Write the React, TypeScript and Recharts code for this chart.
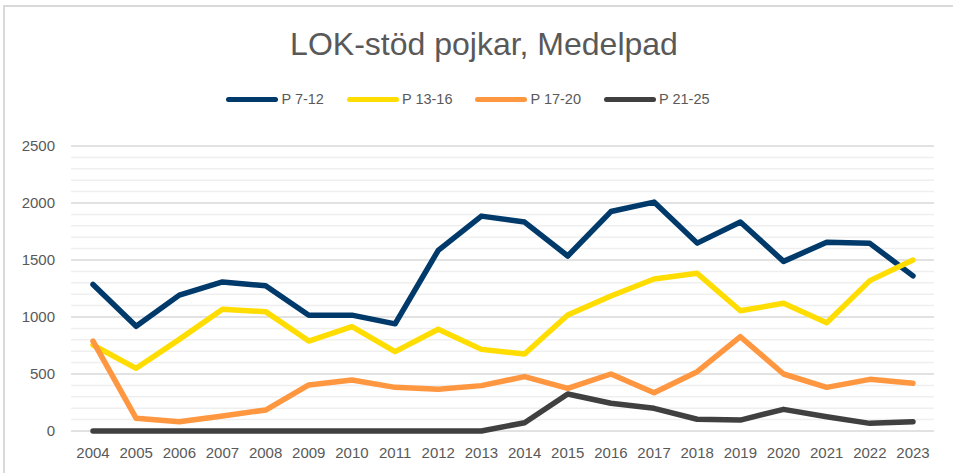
import React from 'react';
import { LineChart, Line, XAxis, YAxis, CartesianGrid, Legend } from 'recharts';

const years = [
  '2004', '2005', '2006', '2007', '2008', '2009', '2010', '2011', '2012', '2013',
  '2014', '2015', '2016', '2017', '2018', '2019', '2020', '2021', '2022', '2023',
];
const p712 = [1285, 918, 1192, 1308, 1274, 1016, 1016, 940, 1585, 1885, 1833, 1535, 1925, 2008, 1648, 1833, 1488, 1655, 1646, 1361];
const p1316 = [754, 550, 804, 1067, 1047, 789, 915, 696, 892, 716, 675, 1018, 1184, 1333, 1383, 1055, 1120, 950, 1319, 1500];
const p1720 = [789, 111, 82, 132, 184, 404, 447, 383, 366, 398, 477, 374, 500, 336, 520, 827, 500, 383, 453, 418];
const p2125 = [0, 0, 0, 0, 0, 0, 0, 0, 0, 0, 73, 325, 243, 199, 103, 96, 190, 125, 67, 82];

const seriesNames = ['P 7-12', 'P 13-16', 'P 17-20', 'P 21-25'];

const yTicks = [
  0, 100, 200, 300, 400, 500, 600, 700, 800, 900, 1000, 1100, 1200,
  1300, 1400, 1500, 1600, 1700, 1800, 1900, 2000, 2100, 2200, 2300, 2400, 2500,
];

const data = years.map((year, i) => ({
  year,
  p712: p712[i],
  p1316: p1316[i],
  p1720: p1720[i],
  p2125: p2125[i],
}));

const font = "Arial, 'Liberation Sans', sans-serif";
const textColor = '#595959';

// major line every 500, light minor line every 100
const gridLine = (props: any) => {
  const { x1, x2, y1, y2, index } = props;
  const major = index % 5 === 0;
  return (
    <line
      key={`grid-${index}`}
      x1={x1}
      x2={x2}
      y1={y1}
      y2={y2}
      stroke={major ? '#d9d9d9' : '#efefef'}
      strokeWidth={1.5}
    />
  );
};

const LegendContent = (props: any) => {
  const items = [...(props.payload || [])].sort(
    (a: any, b: any) => seriesNames.indexOf(a.value) - seriesNames.indexOf(b.value)
  );
  return (
    <div
      style={{
        display: 'flex',
        justifyContent: 'center',
        alignItems: 'center',
        gap: 23,
        height: 24,
        paddingRight: 17,
        fontFamily: font,
        fontSize: 14.5,
        color: textColor,
      }}
    >
      {items.map((item: any) => (
        <div key={item.value} style={{ display: 'flex', alignItems: 'center' }}>
          <span
            style={{
              display: 'inline-block',
              width: 52,
              height: 5,
              borderRadius: 3,
              background: item.color,
              marginRight: 3,
            }}
          />
          <span>{item.value}</span>
        </div>
      ))}
    </div>
  );
};

const App = () => {
  return (
    <div
      style={{
        position: 'absolute',
        left: 0,
        top: 0,
        width: 953,
        height: 473,
        overflow: 'hidden',
        background: '#fff',
      }}
    >
      <div
        style={{
          position: 'absolute',
          left: 3,
          top: 5,
          width: 1000,
          height: 500,
          borderTop: '2px solid #d9d9d9',
          borderLeft: '2px solid #d9d9d9',
        }}
      />
      <div
        style={{
          position: 'absolute',
          left: 284,
          top: 26,
          width: 400,
          textAlign: 'center',
          fontFamily: font,
          fontSize: 32,
          lineHeight: '36px',
          color: textColor,
          whiteSpace: 'nowrap',
        }}
      >
        LOK-stöd pojkar, Medelpad
      </div>
      <LineChart
        width={953}
        height={473}
        data={data}
        margin={{ top: 122, right: 19, left: 0, bottom: 12 }}
      >
        <CartesianGrid vertical={false} horizontal={gridLine} />
        <XAxis
          dataKey="year"
          interval={0}
          padding={{ left: 22, right: 21 }}
          tickLine={false}
          axisLine={false}
          tickMargin={10}
          height={30}
          tick={{ fill: textColor, fontSize: 15, fontFamily: font }}
        />
        <YAxis
          width={71}
          domain={[0, 2500]}
          ticks={yTicks}
          interval={0}
          axisLine={false}
          tickLine={false}
          tickMargin={10}
          tickFormatter={(v: number) => (v % 500 === 0 ? String(v) : '')}
          tick={{ fill: textColor, fontSize: 15, fontFamily: font }}
        />
        <Legend
          verticalAlign="top"
          itemSorter={null as any}
          content={<LegendContent />}
          wrapperStyle={{ top: 87, left: 0, width: 953 }}
        />
        <Line
          type="linear"
          dataKey="p712"
          name={seriesNames[0]}
          stroke="#003a6b"
          strokeWidth={5.5}
          strokeLinecap="round"
          strokeLinejoin="round"
          dot={false}
          activeDot={false}
          isAnimationActive={false}
        />
        <Line
          type="linear"
          dataKey="p1316"
          name={seriesNames[1]}
          stroke="#ffdd00"
          strokeWidth={5.5}
          strokeLinecap="round"
          strokeLinejoin="round"
          dot={false}
          activeDot={false}
          isAnimationActive={false}
        />
        <Line
          type="linear"
          dataKey="p1720"
          name={seriesNames[2]}
          stroke="#ff9640"
          strokeWidth={5.5}
          strokeLinecap="round"
          strokeLinejoin="round"
          dot={false}
          activeDot={false}
          isAnimationActive={false}
        />
        <Line
          type="linear"
          dataKey="p2125"
          name={seriesNames[3]}
          stroke="#404040"
          strokeWidth={5.5}
          strokeLinecap="round"
          strokeLinejoin="round"
          dot={false}
          activeDot={false}
          isAnimationActive={false}
        />
      </LineChart>
    </div>
  );
};

export default App;
